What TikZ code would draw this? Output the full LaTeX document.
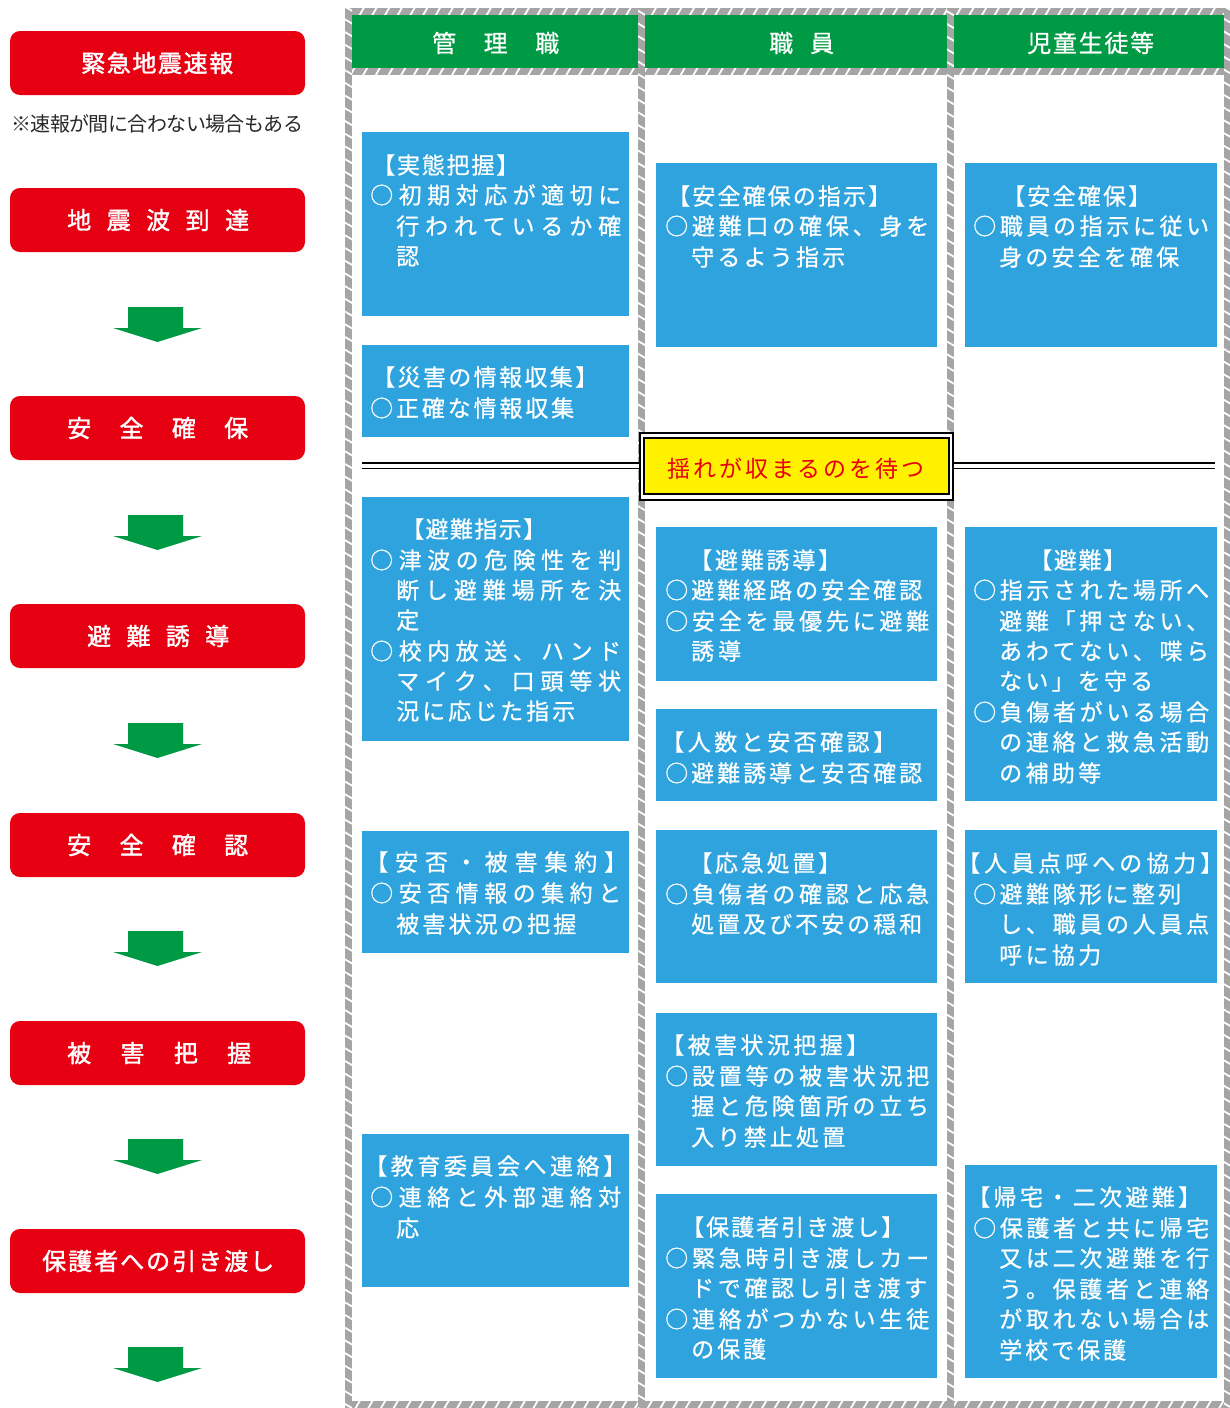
\documentclass[tikz,border=0pt]{standalone}
\usepackage{fontspec}
\newfontfamily\cjk{Noto Sans CJK JP}
\newfontfamily\cjkm{Noto Sans CJK JP}[FakeBold=0.7]
\newfontfamily\cjkb{Noto Sans CJK JP}[FakeBold=1.5]
\usetikzlibrary{patterns.meta}
\definecolor{boxblue}{RGB}{46,163,222}
\definecolor{boxred}{RGB}{230,0,18}
\definecolor{hdrgreen}{RGB}{0,153,68}
\definecolor{waityellow}{RGB}{255,241,0}
\definecolor{stripegray}{RGB}{165,165,165}
\definecolor{notegray}{RGB}{40,40,40}

\ExplSyntaxOn
\dim_new:N \l_rs_pitch_dim
\int_new:N \l_rs_count_int
\NewDocumentCommand\spreadtext{ m m m }
 {
  \int_set:Nn \l_rs_count_int { \tl_count:n {#3} }
  \int_compare:nNnTF { \l_rs_count_int } > { 1 }
   { \dim_set:Nn \l_rs_pitch_dim { \fp_eval:n { (#2 - #1 - \jlfs) / (\l_rs_count_int - 1) } pt } }
   { \dim_set:Nn \l_rs_pitch_dim { \jlfs pt } }
  \tl_map_inline:nn {#3} { \makebox[\l_rs_pitch_dim][l]{##1} }
 }
\ExplSyntaxOff

\def\jlfs{23}
\newcounter{tl}
% \jl[options]{x0}{x1}{y centre}{text}
\newcommand\jl[5][]{\stepcounter{tl}\node[txt,#1] (tl\arabic{tl}) at (#2,{#4+0.38*\jlfs}) {\spreadtext{#2}{#3}{#5}};}
% \bbox{name}{x0}{y0}{x1}{y1}
\newcommand\bbox[5]{\node[bluebox,minimum width={#4-#2},minimum height={#5-#3}] (#1) at ({(#2+#4)/2},{(#3+#5)/2}) {};}
\newcommand\rbox[3]{\node[redbox,minimum width=295,minimum height=64] (#1) at (157.5,#2) {};
  \def\jlfs{24}\jl[font=\cjkb\fontsize{24}{24}\selectfont]#3\def\jlfs{23}}
\newcommand\darrow[2]{\fill[hdrgreen] (128,#2) -- (183,#2) -- (183,{#2+21}) -- (202,{#2+21}) -- (157.5,{#2+35}) -- (113,{#2+21}) -- (128,{#2+21}) -- cycle;}
\newcommand\colframe[2]{%
  \fill[hband] (#1,8) rectangle (#2,15);
  \fill[hband] (#1,68) rectangle (#2,75);
  \fill[hband] (#1,1401) rectangle (#2,1408);
  \fill[vband] (#1,8) rectangle ({#1+7},1408);
  \fill[vband] ({#2-7},8) rectangle (#2,1408);}

\tikzset{
  txt/.style={anchor=base west,inner sep=0pt,text=white,font=\cjkm\fontsize{\jlfs}{\jlfs}\selectfont},
  bluebox/.style={fill=boxblue,inner sep=0pt,draw=none},
  redbox/.style={fill=boxred,inner sep=0pt,draw=none,rounded corners=10pt},
  hdr/.style={fill=hdrgreen,inner sep=0pt,draw=none},
  hband/.style={fill=stripegray,postaction={pattern={Lines[angle=60,distance=11pt,line width=1.8pt]},pattern color=white}},
  vband/.style={fill=stripegray,postaction={pattern={Lines[angle=-30,distance=11pt,line width=1.8pt]},pattern color=white}},
}

\begin{document}
\begin{tikzpicture}[x=1pt,y=-1pt]
\useasboundingbox (0,0) rectangle (1230,1408);
\fill[white] (0,0) rectangle (1230,1408);

% ---------- left flow ----------
\rbox{r1}{63}{{81}{233}{63}{緊急地震速報}}
\jl[text=notegray,font=\cjk\fontsize{20}{20}\selectfont]{11}{306}{123}{※速報が間に合わない場合もある}
\rbox{r2}{220}{{67}{249}{220}{地震波到達}}
\rbox{r3}{428}{{67}{248}{428}{安全確保}}
\rbox{r4}{636}{{87}{229}{636}{避難誘導}}
\rbox{r5}{845}{{67}{248}{845}{安全確認}}
\rbox{r6}{1053}{{67}{251}{1053}{被害把握}}
\rbox{r7}{1261}{{42}{274}{1261}{保護者への引き渡し}}
\darrow{a1}{307}
\darrow{a2}{515}
\darrow{a3}{723}
\darrow{a4}{931}
\darrow{a5}{1139}
\darrow{a6}{1347}

% ---------- column frames ----------
\colframe{345}{645}
\colframe{638}{954}
\colframe{947}{1231}
\node[hdr,minimum width=286,minimum height=53] (h1) at (495,41.5) {};
\node[hdr,minimum width=302,minimum height=53] (h2) at (796,41.5) {};
\node[hdr,minimum width=270,minimum height=53] (h3) at (1089,41.5) {};
\def\jlfs{24}
\jl{432}{559}{43}{管理職}
\jl{769}{834}{43}{職員}
\jl{1027}{1154}{43}{児童生徒等}
\def\jlfs{23}

% ---------- column 1 ----------
\bbox{m1}{362}{132}{629}{316}
\jl{372}{519}{165}{【実態把握】}
\jl{370}{621}{195}{○初期対応が適切に}
\jl{396}{621}{226}{行われているか確}
\jl{396}{419}{256}{認}
\bbox{m2}{362}{345}{629}{437}
\jl{372}{598}{377}{【災害の情報収集】}
\jl{370}{574}{408}{○正確な情報収集}
\bbox{m3}{362}{497}{629}{741}
\jl{401}{546}{529}{【避難指示】}
\jl{370}{621}{560}{○津波の危険性を判}
\jl{396}{621}{590}{断し避難場所を決}
\jl{396}{419}{620}{定}
\jl{370}{621}{651}{○校内放送、ハンド}
\jl{396}{621}{681}{マイク、口頭等状}
\jl{396}{575}{711}{況に応じた指示}
\bbox{m4}{362}{831}{629}{953}
\jl{365}{627}{862}{【安否・被害集約】}
\jl{370}{621}{893}{○安否情報の集約と}
\jl{396}{576}{924}{被害状況の把握}
\bbox{m5}{362}{1134}{629}{1287}
\jl{364}{626}{1166}{【教育委員会へ連絡】}
\jl{370}{621}{1197}{○連絡と外部連絡対}
\jl{396}{419}{1228}{応}

% ---------- column 2 ----------
\bbox{s1}{656}{163}{937}{347}
\jl{667}{891}{196}{【安全確保の指示】}
\jl{665}{929}{226}{○避難口の確保、身を}
\jl{691}{845}{257}{守るよう指示}
\bbox{s2}{656}{527}{937}{681}
\jl{689}{841}{560}{【避難誘導】}
\jl{665}{922}{590}{○避難経路の安全確認}
\jl{665}{929}{621}{○安全を最優先に避難}
\jl{691}{741}{651}{誘導}
\bbox{s3}{656}{709}{937}{801}
\jl{661}{896}{742}{【人数と安否確認】}
\jl{665}{922}{773}{○避難誘導と安否確認}
\bbox{s4}{656}{830}{937}{983}
\jl{689}{841}{863}{【応急処置】}
\jl{665}{929}{894}{○負傷者の確認と応急}
\jl{691}{922}{924}{処置及び不安の穏和}
\bbox{s5}{656}{1013}{937}{1166}
\jl{661}{869}{1045}{【被害状況把握】}
\jl{665}{929}{1076}{○設置等の被害状況把}
\jl{691}{929}{1106}{握と危険箇所の立ち}
\jl{691}{845}{1137}{入り禁止処置}
\bbox{s6}{656}{1194}{937}{1378}
\jl{681}{904}{1227}{【保護者引き渡し】}
\jl{665}{929}{1258}{○緊急時引き渡しカー}
\jl{691}{927}{1288}{ドで確認し引き渡す}
\jl{665}{929}{1319}{○連絡がつかない生徒}
\jl{691}{766}{1349}{の保護}

% ---------- column 3 ----------
\bbox{p1}{965}{163}{1217}{347}
\jl{1002}{1151}{196}{【安全確保】}
\jl{973}{1209}{226}{○職員の指示に従い}
\jl{999}{1179}{257}{身の安全を確保}
\bbox{p2}{965}{527}{1217}{801}
\jl{1029}{1126}{560}{【避難】}
\jl{973}{1209}{590}{○指示された場所へ}
\jl{999}{1209}{621}{避難「押さない、}
\jl{999}{1209}{651}{あわてない、喋ら}
\jl{999}{1153}{681}{ない」を守る}
\jl{973}{1209}{712}{○負傷者がいる場合}
\jl{999}{1209}{742}{の連絡と救急活動}
\jl{999}{1101}{773}{の補助等}
\bbox{p3}{965}{830}{1217}{983}
\jl{957}{1223}{863}{【人員点呼への協力】}
\jl{973}{1181}{894}{○避難隊形に整列}
\jl{999}{1209}{924}{し、職員の人員点}
\jl{999}{1101}{955}{呼に協力}
\bbox{p4}{965}{1165}{1217}{1378}
\jl{967}{1201}{1197}{【帰宅・二次避難】}
\jl{973}{1209}{1228}{○保護者と共に帰宅}
\jl{999}{1209}{1258}{又は二次避難を行}
\jl{999}{1209}{1289}{う。保護者と連絡}
\jl{999}{1209}{1319}{が取れない場合は}
\jl{999}{1126}{1350}{学校で保護}

% ---------- wait box ----------
\node[draw=black,line width=1.6pt,fill=white,inner sep=0pt,minimum width=313,minimum height=67] (waitout) at (796.5,466.5) {};
\node[draw=black,line width=1.6pt,fill=waityellow,inner sep=0pt,minimum width=305,minimum height=56] (wait) at (796.5,466) {};
\jl[text=boxred,font=\cjk\fontsize{23}{23}\selectfont]{667}{924}{469}{揺れが収まるのを待つ}
\coordinate (dl) at (362,465.8);
\coordinate (dr) at (1215,465.8);
\draw[line width=1.6pt,double=white,double distance=3.8pt] (dl) -- (waitout.west |- dl);
\draw[line width=1.6pt,double=white,double distance=3.8pt] (waitout.east |- dr) -- (dr);
\end{tikzpicture}
\end{document}
